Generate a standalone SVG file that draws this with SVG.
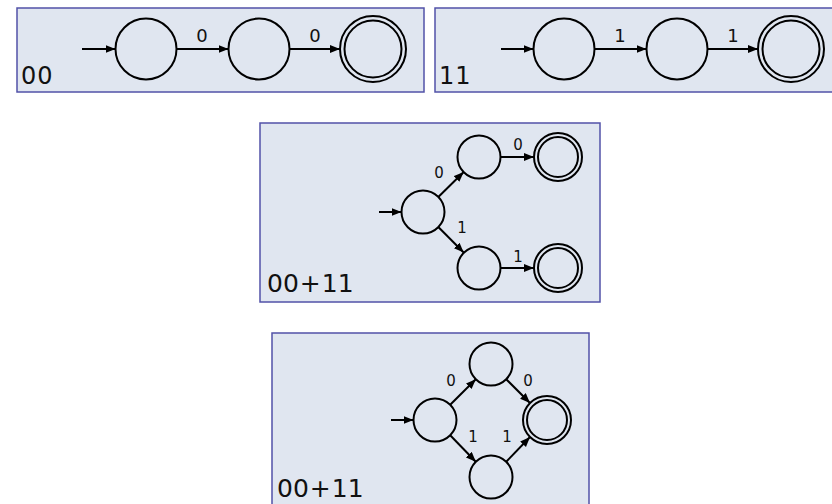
<svg xmlns="http://www.w3.org/2000/svg" width="832" height="504" viewBox="0 0 832 504">
<style>
.panel{fill:#e0e6f0;stroke:#5252a8;stroke-width:1.5}
.st{fill:none;stroke:#000;stroke-width:2}
.ed{fill:none;stroke:#000;stroke-width:2;marker-end:url(#ah)}
.lb{font-family:"DejaVu Sans",sans-serif;fill:#111;text-anchor:middle}
.big{font-family:"DejaVu Sans",sans-serif;fill:#111}
</style>
<defs>
<marker id="ah" markerUnits="userSpaceOnUse" markerWidth="11" markerHeight="9" refX="10" refY="4" orient="auto" viewBox="0 0 11 9">
<path d="M0,0 L10,4 L0,8 z" fill="#000"/>
</marker>
</defs>
<rect class="panel" x="17" y="8" width="407" height="84"/>
<rect class="panel" x="435" y="8" width="410" height="84"/>
<rect class="panel" x="260" y="123" width="340" height="179"/>
<rect class="panel" x="272" y="333" width="317" height="180"/>
<text class="big" x="21" y="84" font-size="24" letter-spacing="1">00</text>
<text class="big" x="439" y="84" font-size="24" letter-spacing="1">11</text>
<text class="big" x="267" y="292" font-size="25">00<tspan dx="1">+</tspan><tspan dx="1">11</tspan></text>
<text class="big" x="277" y="497" font-size="25">00<tspan dx="1">+</tspan><tspan dx="1">11</tspan></text>
<g id="connectors">
<line class="ed" x1="82" y1="49" x2="115.5" y2="49"/>
<line class="ed" x1="176.5" y1="49" x2="228.5" y2="49"/>
<line class="ed" x1="289.5" y1="49" x2="340" y2="49"/>
<line class="ed" x1="501" y1="49" x2="533.5" y2="49"/>
<line class="ed" x1="594.5" y1="49" x2="646.5" y2="49"/>
<line class="ed" x1="707.5" y1="49" x2="758" y2="49"/>
<line class="ed" x1="379" y1="212" x2="401.5" y2="212"/>
<line class="ed" x1="438.3" y1="197" x2="463.7" y2="172"/>
<line class="ed" x1="438.3" y1="227" x2="463.7" y2="252.5"/>
<line class="ed" x1="500.5" y1="157" x2="534" y2="157"/>
<line class="ed" x1="500.5" y1="268" x2="534" y2="268"/>
<line class="ed" x1="391" y1="420" x2="413.5" y2="420"/>
<line class="ed" x1="450.2" y1="404.8" x2="475.8" y2="379.2"/>
<line class="ed" x1="506.2" y1="379.2" x2="530" y2="403"/>
<line class="ed" x1="450.2" y1="435.2" x2="475.8" y2="461.8"/>
<line class="ed" x1="506.2" y1="461.8" x2="530" y2="437"/>
<text class="lb" x="202" y="42" font-size="18">0</text>
<text class="lb" x="315" y="42" font-size="18">0</text>
<text class="lb" x="620" y="42" font-size="18">1</text>
<text class="lb" x="733" y="42" font-size="18">1</text>
<text class="lb" x="439" y="178" font-size="15">0</text>
<text class="lb" x="462" y="233" font-size="15">1</text>
<text class="lb" x="518" y="150" font-size="15">0</text>
<text class="lb" x="518" y="262" font-size="15">1</text>
<text class="lb" x="451" y="386" font-size="15">0</text>
<text class="lb" x="528" y="386" font-size="15">0</text>
<text class="lb" x="473" y="442" font-size="15">1</text>
<text class="lb" x="507" y="442" font-size="15">1</text>
</g>
<g id="p1-q0"><circle class="st" cx="146" cy="49" r="30.5"/></g>
<g id="p1-q1"><circle class="st" cx="259" cy="49" r="30.5"/></g>
<g id="p1-q2"><circle class="st" cx="373" cy="49" r="33"/><circle class="st" cx="373" cy="49" r="28.5"/></g>
<g id="p2-q0"><circle class="st" cx="564" cy="49" r="30.5"/></g>
<g id="p2-q1"><circle class="st" cx="677" cy="49" r="30.5"/></g>
<g id="p2-q2"><circle class="st" cx="791" cy="49" r="33"/><circle class="st" cx="791" cy="49" r="28.5"/></g>
<g id="p3-q0"><circle class="st" cx="423" cy="212" r="21.5"/></g>
<g id="p3-q1"><circle class="st" cx="479" cy="157" r="21.5"/></g>
<g id="p3-q2"><circle class="st" cx="479" cy="268" r="21.5"/></g>
<g id="p3-q3"><circle class="st" cx="558" cy="157" r="24"/><circle class="st" cx="558" cy="157" r="20"/></g>
<g id="p3-q4"><circle class="st" cx="558" cy="268" r="24"/><circle class="st" cx="558" cy="268" r="20"/></g>
<g id="p4-q0"><circle class="st" cx="435" cy="420" r="21.5"/></g>
<g id="p4-q1"><circle class="st" cx="491" cy="364" r="21.5"/></g>
<g id="p4-q2"><circle class="st" cx="491" cy="477" r="21.5"/></g>
<g id="p4-q3"><circle class="st" cx="547" cy="420" r="24"/><circle class="st" cx="547" cy="420" r="20"/></g>
</svg>
